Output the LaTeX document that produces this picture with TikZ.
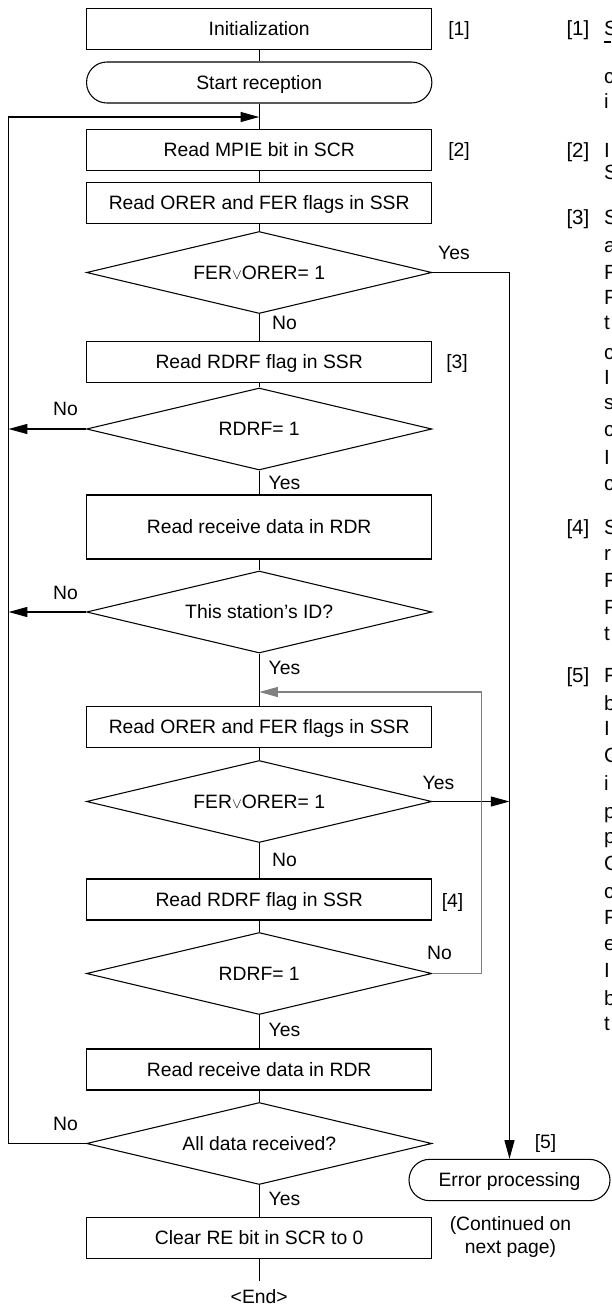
\documentclass[tikz,border=0pt]{standalone}
\usepackage{fontspec}
\setmainfont{Liberation Sans}
\usetikzlibrary{shapes.geometric,arrows.meta}
\newcommand\fsz{\fontsize{14.5}{17}\selectfont}
\newcommand\rfs{\fontsize{15.4}{18}\selectfont}
\newcommand\orsym{{\fontsize{11}{11}\selectfont$\vee$}}
\begin{document}
\begin{tikzpicture}[x=0.75pt,y=-0.75pt,
  line width=0.8pt,
  every node/.style={font=\fsz, inner sep=0pt},
  box/.style={draw, rectangle, minimum width=258.98pt, minimum height=30.75pt, text height=10.4pt, text depth=0pt},
  term/.style={box, rounded corners=15.3pt},
  dec/.style={draw, diamond, aspect=4.2, minimum width=258.98pt, minimum height=61.5pt, text height=10.4pt, text depth=0pt},
  lbl/.style={text height=10.4pt, text depth=0pt},
  arr/.style={-{Triangle[length=14pt,width=7.5pt]}},
  rc/.style={anchor=base west, font=\rfs},
  gl/.style={draw=black!50}
]
\useasboundingbox (0,0) rectangle (611,1307);

% main column
\node[box]  (init)  at (259.2,29)    {Initialization};
\node[term] (start) at (259.2,82.5)  {Start reception};
\node[box]  (mpie)  at (259.2,150)   {Read MPIE bit in SCR};
\node[box]  (orer)  at (259.2,203)   {Read ORER and FER flags in SSR};
\node[dec]  (fer)   at (259.2,272.5) {FER\orsym ORER= 1};
\node[box]  (rdrf)  at (259.2,362)   {Read RDRF flag in SSR};
\node[dec]  (d2)    at (259.2,429)   {RDRF= 1};
\node[box, minimum height=48pt] (rrd) at (259.2,527) {Read receive data in RDR};
\node[dec]  (sid)   at (259.2,612)   {This station's ID?};
\node[box]  (orer2) at (259.2,727)   {Read ORER and FER flags in SSR};
\node[dec]  (fer2)  at (259.2,801.5) {FER\orsym ORER= 1};
\node[box]  (rdrf2) at (259.2,899.5) {Read RDRF flag in SSR};
\node[dec]  (d4)    at (259.2,973.5) {RDRF= 1};
\node[box]  (rrd2)  at (259.2,1069.5){Read receive data in RDR};
\node[dec]  (all)   at (259.2,1143.5){All data received?};
\node[box]  (clear) at (259.2,1238)  {Clear RE bit in SCR to 0};
\node[lbl, anchor=base] (endn) at (259.2,1303) {<End>};
\node[term, minimum width=150.75pt, minimum height=31pt, rounded corners=15.5pt] (err) at (509.5,1180) {Error processing};
\node[lbl] (c1) at (510.5,1224) {(Continued on};
\node[lbl] (c2) at (510.5,1247) {next page)};

% step numbers
\node[lbl] (t1) at (459,29)   {[1]};
\node[lbl] (t2) at (459,150)  {[2]};
\node[lbl] (t3) at (457,362)  {[3]};
\node[lbl] (t4) at (452.5,901){[4]};
\node[lbl] (t5) at (545.6,1142){[5]};

% yes / no labels
\node[lbl] (y1) at (454,253)    {Yes};
\node[lbl] (n1) at (284.5,323)  {No};
\node[lbl] (n2) at (65.5,409)   {No};
\node[lbl] (y2) at (284.5,483)  {Yes};
\node[lbl] (n3) at (65.5,593)   {No};
\node[lbl] (y3) at (284.5,668)  {Yes};
\node[lbl] (y4) at (438.5,783)  {Yes};
\node[lbl] (n4) at (284.5,860)  {No};
\node[lbl] (n5) at (439.5,953)  {No};
\node[lbl] (y5) at (284.5,1030) {Yes};
\node[lbl] (n6) at (65.5,1124)  {No};
\node[lbl] (y6) at (284.5,1199) {Yes};

% helper points
\coordinate (lx) at (8.6,117);
\coordinate (ma) at (259.2,117);
\coordinate (rx) at (481.3,692);
\coordinate (mb) at (259.2,692);
\coordinate (endtop) at (259.2,1281);

% spine
\draw (init) -- (start);
\draw (start) -- (mpie);
\draw (mpie) -- (orer);
\draw (orer) -- (fer);
\draw (fer) -- (rdrf);
\draw (rdrf) -- (d2);
\draw (d2) -- (rrd);
\draw (rrd) -- (sid);
\draw (sid) -- (orer2);
\draw (orer2) -- (fer2);
\draw (fer2) -- (rdrf2);
\draw (rdrf2) -- (d4);
\draw (d4) -- (rrd2);
\draw (rrd2) -- (all);
\draw (all) -- (clear);
\draw (clear) -- (endtop);

% branches
\draw[arr] (all.west) -| (lx) -- (ma);
\draw[arr] (d2.west) -- (d2.west -| lx);
\draw[arr] (sid.west) -- (sid.west -| lx);
\draw[arr] (fer.east) -| (err.north);
\draw[arr] (fer2.east) -- (fer2.east -| err.north);
\draw[arr, gl] (d4.east) -| (rx) -- (mb);

% clipped right-hand notes column
\begin{scope}
\clip (0,0) rectangle (611,1307);
\foreach \t/\yy [count=\i] in {[1]/35,[2]/157,[3]/224,[4]/534,[5]/682}
  \node[rc] (rn\i) at (566,\yy) {\t};
\foreach \t/\yy [count=\i] in {S/35,c/83,i/108,I/157,S/179,S/224,a/252,F/279,F/304,t/329,c/359,I/384,s/409,c/436,I/464,c/490,S/534,r/560,F/587,F/614,t/640,F/682,b/710,I/735,C/762,i/790,p/818,p/843,C/870,c/898,F/924,e/950,I/977,b/1005,t/1030}
  \node[rc] (rl\i) at (603.5,\yy) {\t};
\draw[line width=1.4pt] (604,42) -- (611,42);
\end{scope}
\end{tikzpicture}
\end{document}
